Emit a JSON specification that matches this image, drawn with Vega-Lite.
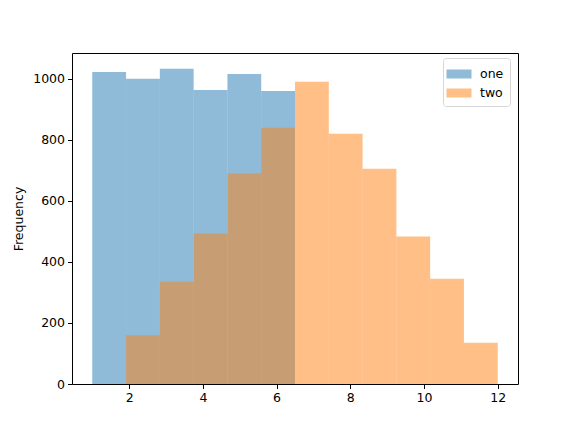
{
  "$schema": "https://vega.github.io/schema/vega-lite/v6.json",
  "width": 446,
  "height": 331,
  "autosize": "none",
  "padding": {"left": 72, "top": 53, "right": 58, "bottom": 48},
  "data": {
    "values": [
      {"series": "one", "start": 1.0, "end": 1.9167, "count": 1022},
      {"series": "one", "start": 1.9167, "end": 2.8333, "count": 1000},
      {"series": "one", "start": 2.8333, "end": 3.75, "count": 1033},
      {"series": "one", "start": 3.75, "end": 4.6667, "count": 963},
      {"series": "one", "start": 4.6667, "end": 5.5833, "count": 1016},
      {"series": "one", "start": 5.5833, "end": 6.5, "count": 960},
      {"series": "two", "start": 1.9167, "end": 2.8333, "count": 160},
      {"series": "two", "start": 2.8333, "end": 3.75, "count": 335},
      {"series": "two", "start": 3.75, "end": 4.6667, "count": 493},
      {"series": "two", "start": 4.6667, "end": 5.5833, "count": 690},
      {"series": "two", "start": 5.5833, "end": 6.5, "count": 840},
      {"series": "two", "start": 6.5, "end": 7.4167, "count": 990},
      {"series": "two", "start": 7.4167, "end": 8.3333, "count": 820},
      {"series": "two", "start": 8.3333, "end": 9.25, "count": 705},
      {"series": "two", "start": 9.25, "end": 10.1667, "count": 483},
      {"series": "two", "start": 10.1667, "end": 11.0833, "count": 345},
      {"series": "two", "start": 11.0833, "end": 12.0, "count": 135}
    ]
  },
  "mark": {"type": "rect", "opacity": 0.5},
  "encoding": {
    "x": {
      "field": "start",
      "type": "quantitative",
      "scale": {"domain": [0.45, 12.55], "nice": false, "zero": false},
      "axis": {"values": [2, 4, 6, 8, 10, 12], "title": null}
    },
    "x2": {"field": "end"},
    "y": {
      "field": "count",
      "type": "quantitative",
      "stack": null,
      "scale": {"domain": [0, 1084.6], "nice": false},
      "axis": {"values": [0, 200, 400, 600, 800, 1000], "format": "d", "title": "Frequency"}
    },
    "y2": {"datum": 0},
    "color": {
      "field": "series",
      "type": "nominal",
      "scale": {"domain": ["one", "two"], "range": ["#1f77b4", "#ff7f0e"]},
      "legend": {
        "title": null,
        "orient": "none",
        "legendX": 371,
        "legendY": 5,
        "padding": 6,
        "strokeColor": "#d6d6d6",
        "cornerRadius": 3,
        "fillColor": "white",
        "symbolType": "M-1.25,-0.45L1.25,-0.45L1.25,0.45L-1.25,0.45Z",
        "symbolSize": 400,
        "symbolOpacity": 0.5,
        "symbolStrokeWidth": 0,
        "labelFontSize": 12.5,
        "labelOffset": 11,
        "rowPadding": 2
      }
    }
  },
  "config": {
    "font": "DejaVu Sans",
    "view": {"stroke": "black", "strokeWidth": 1},
    "axis": {
      "grid": false,
      "domain": false,
      "tickColor": "black",
      "tickSize": 4.5,
      "labelColor": "black",
      "labelFontSize": 12.5,
      "labelFont": "DejaVu Sans",
      "titleFont": "DejaVu Sans",
      "titleFontSize": 12.5,
      "titleFontWeight": "normal",
      "titleColor": "black",
      "labelPadding": 3
    },
    "axisY": {"titlePadding": 7},
    "legend": {"labelColor": "black", "labelFont": "DejaVu Sans"}
  }
}
